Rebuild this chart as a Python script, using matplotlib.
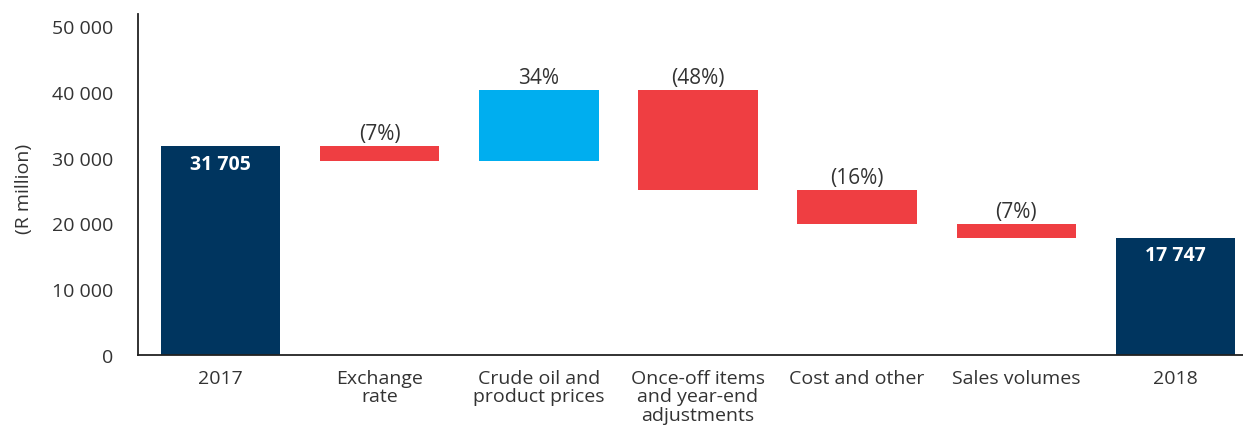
import matplotlib
matplotlib.use("Agg")
import matplotlib.pyplot as plt
import numpy as np

# waterfall data (R million)
categories = ["2017", "Exchange\nrate", "Crude oil and\nproduct prices",
              "Once-off items\nand year-end\nadjustments", "Cost and other",
              "Sales volumes", "2018"]
start_value = 31705
changes = [-2219, 10780, -15218, -5073, -2228]
end_value = 17747
change_labels = ["(7%)", "34%", "(48%)", "(16%)", "(7%)"]
total_labels = ["31 705", "17 747"]
yticks = [0, 10000, 20000, 30000, 40000, 50000]
ytick_labels = ["0", "10 000", "20 000", "30 000", "40 000", "50 000"]

navy = "#00355f"
red = "#ef3e42"
blue = "#00aeef"
txt = "#333333"

plt.rcParams['font.family'] = ['Open Sans', 'DejaVu Sans']

fig = plt.figure(figsize=(12.43, 4.27), dpi=100)
ax = fig.add_axes([0.111, 0.1665, 0.889, 0.798])

w = 0.75
x = np.arange(len(categories))

# totals
ax.bar(x[0], start_value, width=w, color=navy)
ax.bar(x[-1], end_value, width=w, color=navy)
ax.text(x[0], start_value - 1100, total_labels[0], ha="center", va="top",
        color="white", fontsize=14, fontweight="bold")
ax.text(x[-1], end_value - 1100, total_labels[1], ha="center", va="top",
        color="white", fontsize=14, fontweight="bold")

# changes
level = start_value
for i, (c, lab) in enumerate(zip(changes, change_labels)):
    lo, hi = min(level, level + c), max(level, level + c)
    ax.bar(x[i + 1], hi - lo, bottom=lo, width=w, color=blue if c > 0 else red)
    ax.text(x[i + 1], hi + 300, lab, ha="center", va="bottom", color=txt, fontsize=15)
    level += c

ax.set_xlim(-0.519, 6.425)
ax.set_ylim(0, 51800)
ax.set_yticks(yticks)
ax.set_yticklabels(ytick_labels)
ax.set_xticks(x)
ax.set_xticklabels(categories, linespacing=1.05)
ax.tick_params(axis="both", length=0, labelsize=14, labelcolor=txt)
ax.tick_params(axis="y", pad=18)
ax.tick_params(axis="x", pad=10)
ax.set_ylabel("(R million)", fontsize=14, color=txt)
ax.yaxis.set_label_coords(-0.095, 0.49)

for s in ["top", "right"]:
    ax.spines[s].set_visible(False)
ax.spines["left"].set_color("#222222")
ax.spines["bottom"].set_color("#222222")
ax.spines["left"].set_linewidth(1.3)
ax.spines["bottom"].set_linewidth(1.3)

fig.savefig("out.png", dpi=100)
